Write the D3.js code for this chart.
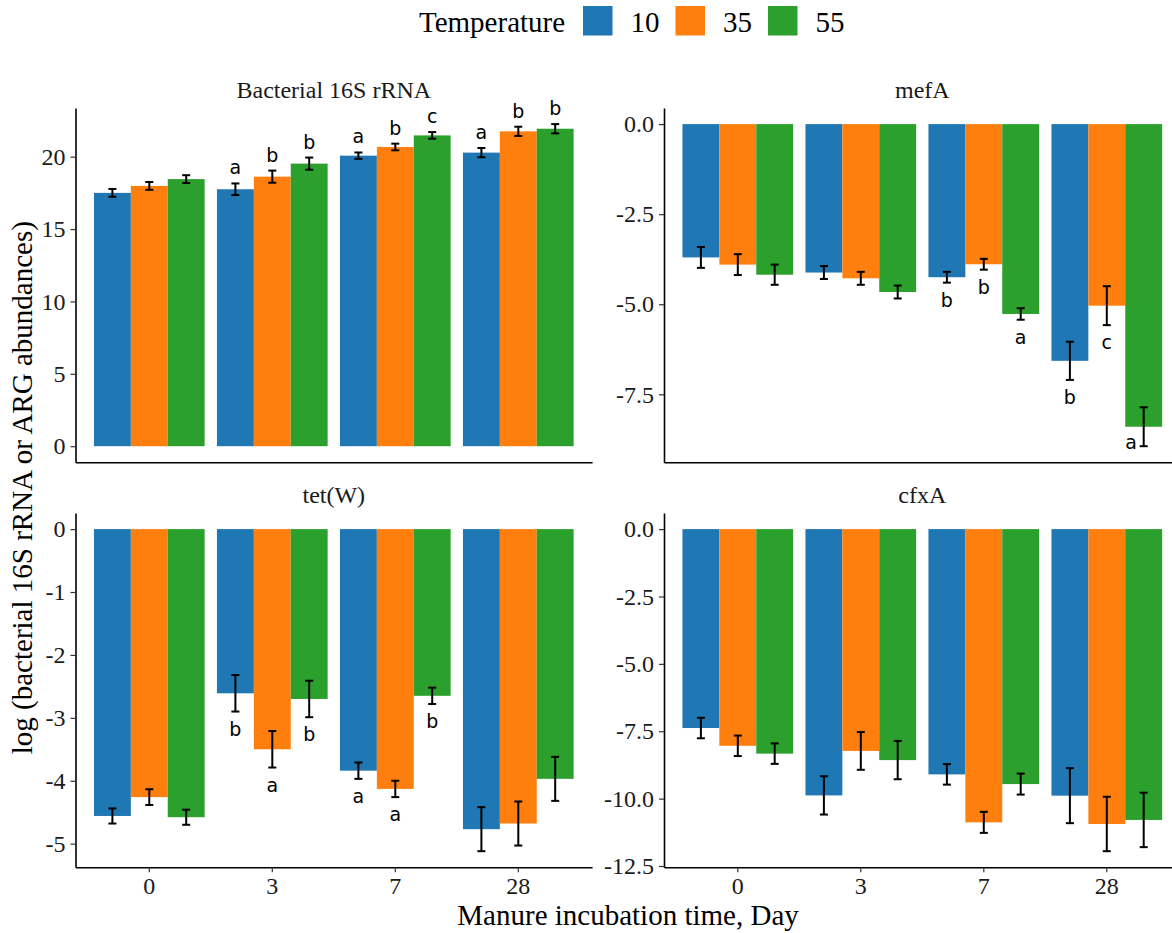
<!DOCTYPE html>
<html>
<head>
<meta charset="utf-8">
<script src="https://cdn.jsdelivr.net/npm/d3@7"></script>
<style>
  body { margin: 0; background: #fff; }
  svg text { font-family: "Liberation Serif", "Times New Roman", serif; }
  svg text.letter { font-family: "DejaVu Sans", Verdana, sans-serif; }
</style>
</head>
<body>
<div id="chart"></div>
<script>
// Categories
var days = ["0", "3", "7", "28"];
var temps = ["10", "35", "55"];
var tempColors = ["#1f77b4", "#ff7f0e", "#2ca02c"];
var genes = ["Bacterial 16S rRNA", "mefA", "tet(W)", "cfxA"];

// Means: one row per day, one column per temperature (10, 35, 55)
var rRNA16S = [[17.50, 17.98, 18.45], [17.75, 18.62, 19.52], [20.07, 20.67, 21.47], [20.28, 21.75, 21.93]];
var rRNA16SErr = [[0.27, 0.27, 0.27], [0.40, 0.42, 0.42], [0.22, 0.23, 0.23], [0.32, 0.32, 0.32]];
var rRNA16SLetters = [["", "", ""], ["a", "b", "b"], ["a", "b", "c"], ["a", "b", "b"]];

var mefA = [[-3.70, -3.90, -4.18], [-4.12, -4.28, -4.66], [-4.25, -3.89, -5.27], [-6.57, -5.04, -8.40]];
var mefAErr = [[0.29, 0.29, 0.28], [0.18, 0.18, 0.18], [0.15, 0.15, 0.16], [0.53, 0.54, 0.54]];
var mefALetters = [["", "", ""], ["", "", ""], ["b", "b", "a"], ["b", "c", "a"]];

var tetW = [[-4.56, -4.26, -4.58], [-2.61, -3.50, -2.70], [-3.84, -4.13, -2.65], [-4.77, -4.68, -3.97]];
var tetWErr = [[0.12, 0.125, 0.12], [0.29, 0.29, 0.29], [0.13, 0.13, 0.13], [0.35, 0.35, 0.35]];
var tetWLetters = [["", "", ""], ["b", "a", "b"], ["a", "a", "b"], ["", "", ""]];

var cfxA = [[-7.38, -8.04, -8.33], [-9.88, -8.23, -8.57], [-9.10, -10.88, -9.46], [-9.89, -10.94, -10.79]];
var cfxAErr = [[0.38, 0.38, 0.38], [0.71, 0.70, 0.71], [0.38, 0.39, 0.39], [1.02, 1.01, 1.01]];
var cfxALetters = [["", "", ""], ["", "", ""], ["", "", ""], ["", "", ""]];

// Tick values per panel
var ticks16S = [0, 5, 10, 15, 20];
var ticksMefA = [0, -2.5, -5, -7.5];
var ticksTetW = [0, -1, -2, -3, -4, -5];
var ticksCfxA = [0, -2.5, -5, -7.5, -10, -12.5];

var panelData = [
  { title: genes[0], means: rRNA16S, errs: rRNA16SErr, letters: rRNA16SLetters, ticks: ticks16S, fmt: d3.format("d") },
  { title: genes[1], means: mefA, errs: mefAErr, letters: mefALetters, ticks: ticksMefA, fmt: d3.format(".1f") },
  { title: genes[2], means: tetW, errs: tetWErr, letters: tetWLetters, ticks: ticksTetW, fmt: d3.format("d") },
  { title: genes[3], means: cfxA, errs: cfxAErr, letters: cfxALetters, ticks: ticksCfxA, fmt: d3.format(".1f") }
];

// SVG area
var svgWidth = 1172;
var svgHeight = 933;

var svg = d3.select("#chart")
  .append("svg")
  .attr("width", svgWidth)
  .attr("height", svgHeight);

// panel geometry (facet grid 2 x 2)
var step = 123;
var panelWidth = step * 4.2;
var panelHeight = 354.3;
var panelLefts = [75.5, 664];
var panelTops = [108, 513];

var textColor = "#1a1a1a";
var serif = "'Liberation Serif', 'Times New Roman', serif";

panelData.forEach(function (p, i) {
  var col = i % 2;
  var row = Math.floor(i / 2);
  var left = panelLefts[col];
  var top = panelTops[row];

  var g = svg.append("g")
    .attr("transform", `translate(${left}, ${top})`);

  // rows flattened into records
  var records = [];
  p.means.forEach(function (vals, di) {
    vals.forEach(function (v, ti) {
      records.push({ day: days[di], temp: temps[ti], value: v, err: p.errs[di][ti], letter: p.letters[di][ti] });
    });
  });

  // ggplot-like 5% expansion around [min, max] including 0
  var lo = d3.min(records, d => Math.min(0, d.value - d.err));
  var hi = d3.max(records, d => Math.max(0, d.value + d.err));
  var pad = (hi - lo) * 0.05;

  var yScale = d3.scaleLinear()
    .domain([lo - pad, hi + pad])
    .range([panelHeight, 0]);

  var xScale = d3.scaleBand()
    .domain(days)
    .range([0, panelWidth])
    .paddingInner(0.1)
    .paddingOuter(0.15);

  var tScale = d3.scaleBand()
    .domain(temps)
    .range([0, xScale.bandwidth()]);

  var colorScale = d3.scaleOrdinal().domain(temps).range(tempColors);

  // bars
  g.append("g").selectAll("rect")
    .data(records)
    .enter()
    .append("rect")
    .attr("x", d => xScale(d.day) + tScale(d.temp))
    .attr("y", d => yScale(Math.max(0, d.value)))
    .attr("width", tScale.bandwidth())
    .attr("height", d => Math.abs(yScale(d.value) - yScale(0)))
    .attr("fill", d => colorScale(d.temp));

  // error bars
  var capHalf = 4;
  var eb = g.append("g").selectAll("g")
    .data(records)
    .enter()
    .append("g")
    .attr("stroke", "#000")
    .attr("stroke-width", 2);

  eb.append("line")
    .attr("x1", d => xScale(d.day) + tScale(d.temp) + tScale.bandwidth() / 2)
    .attr("x2", d => xScale(d.day) + tScale(d.temp) + tScale.bandwidth() / 2)
    .attr("y1", d => yScale(d.value - d.err))
    .attr("y2", d => yScale(d.value + d.err));
  [-1, 1].forEach(function (s) {
    eb.append("line")
      .attr("x1", d => xScale(d.day) + tScale(d.temp) + tScale.bandwidth() / 2 - capHalf)
      .attr("x2", d => xScale(d.day) + tScale(d.temp) + tScale.bandwidth() / 2 + capHalf)
      .attr("y1", d => yScale(d.value + s * d.err))
      .attr("y2", d => yScale(d.value + s * d.err));
  });

  // significance letters
  g.append("g").selectAll("text")
    .data(records.filter(d => d.letter !== ""))
    .enter()
    .append("text")
    .classed("letter", true)
    .attr("text-anchor", "middle")
    .attr("font-size", 19)
    .attr("fill", "#000")
    .each(function (d) {
      var cx = xScale(d.day) + tScale(d.temp) + tScale.bandwidth() / 2;
      var y;
      if (d.value >= 0) {
        y = yScale(d.value + d.err) - 9;
      } else {
        y = yScale(d.value - d.err) + 24;
        // no room below: put it beside the error bar
        if (y > panelHeight - 4) {
          y = yScale(d.value - d.err) + 3;
          cx -= 12.5;
        }
      }
      d3.select(this).attr("x", cx).attr("y", y);
    })
    .text(d => d.letter);

  // y axis
  var leftAxis = d3.axisLeft(yScale)
    .tickValues(p.ticks)
    .tickFormat(v => p.fmt(v).replace("\u2212", "-"))
    .tickSize(5)
    .tickSizeOuter(0)
    .tickPadding(5);

  var ya = g.append("g").call(leftAxis).attr("font-family", serif);
  ya.select(".domain").attr("stroke", "#000").attr("stroke-width", 1.6);
  ya.selectAll(".tick line").attr("stroke", "#333").attr("stroke-width", 1.2);
  ya.selectAll(".tick text")
    .style("font-family", serif)
    .style("font-size", "24px")
    .attr("fill", textColor);

  // x axis
  var bottomAxis = d3.axisBottom(xScale)
    .tickSize(row === 1 ? 5 : 0)
    .tickSizeOuter(0)
    .tickPadding(5)
    .tickFormat(row === 1 ? (d => d) : "");

  var xa = g.append("g")
    .attr("transform", `translate(0, ${panelHeight})`)
    .call(bottomAxis)
    .attr("font-family", serif);
  xa.select(".domain").attr("stroke", "#000").attr("stroke-width", 1.6);
  xa.selectAll(".tick line").attr("stroke", "#333").attr("stroke-width", 1.2);
  xa.selectAll(".tick text")
    .style("font-family", serif)
    .style("font-size", "24px")
    .attr("fill", textColor);

  // facet title
  g.append("text")
    .attr("x", panelWidth / 2)
    .attr("y", -10)
    .attr("text-anchor", "middle")
    .attr("font-size", 24)
    .attr("fill", textColor)
    .text(p.title);
});

// axis titles
var plotLeft = panelLefts[0];
var plotRight = panelLefts[1] + panelWidth;

svg.append("text")
  .attr("x", (plotLeft + plotRight) / 2)
  .attr("y", 925)
  .attr("text-anchor", "middle")
  .attr("font-size", 29)
  .attr("fill", "#000")
  .text("Manure incubation time, Day");

svg.append("text")
  .attr("transform", `translate(32, ${(panelTops[0] + panelTops[1] + panelHeight) / 2}) rotate(-90)`)
  .attr("text-anchor", "middle")
  .attr("font-size", 29)
  .attr("fill", "#000")
  .text("log (bacterial 16S rRNA or ARG abundances)");

// legend
var legend = svg.append("g");
var legendBaseline = 32;
legend.append("text")
  .attr("x", 419)
  .attr("y", legendBaseline)
  .attr("font-size", 29)
  .attr("fill", "#000")
  .text("Temperature");

var keySize = 29.5;
var keyX = 583;
temps.forEach(function (t, i) {
  legend.append("rect")
    .attr("x", keyX)
    .attr("y", 6)
    .attr("width", keySize)
    .attr("height", keySize)
    .attr("fill", tempColors[i]);
  var lbl = legend.append("text")
    .attr("x", keyX + keySize + 18)
    .attr("y", legendBaseline)
    .attr("font-size", 29)
    .attr("fill", "#000")
    .text(t);
  keyX = keyX + keySize + 18 + lbl.node().getComputedTextLength() + 16;
});
</script>
</body>
</html>
